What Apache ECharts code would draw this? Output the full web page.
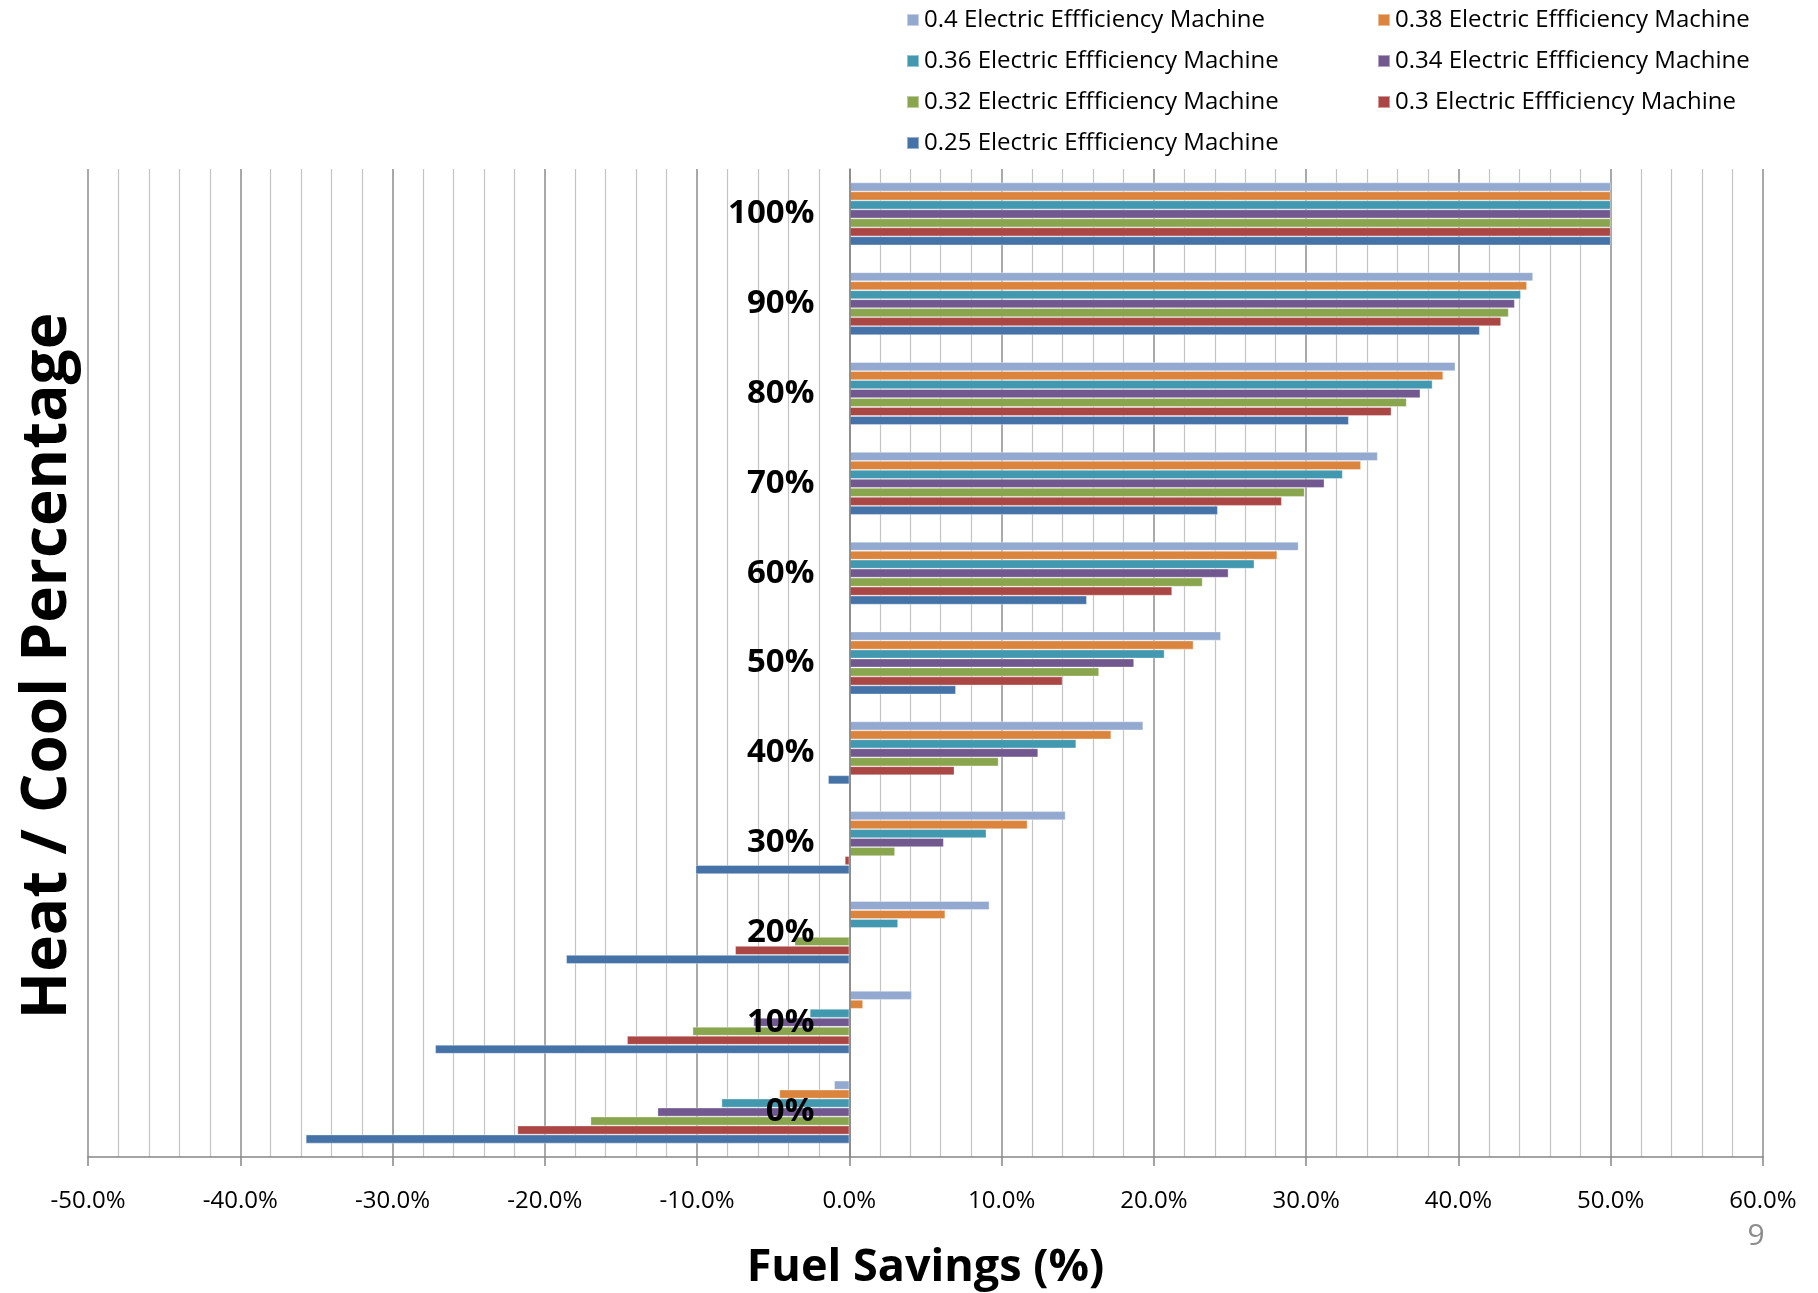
<!DOCTYPE html>
<html>
<head>
<meta charset="utf-8">
<script src="https://cdn.jsdelivr.net/npm/echarts@6/dist/echarts.min.js"></script>
<style>
  html, body { margin: 0; padding: 0; background: #ffffff; }
  #chart { width: 1818px; height: 1293px; }
</style>
</head>
<body>
<div id="chart"></div>
<script>
// Categories (bottom to top)
const categories = ['0%', '10%', '20%', '30%', '40%', '50%', '60%', '70%', '80%', '90%', '100%'];

// Fuel savings (%) per machine electric efficiency
const eff040 = [-1.0, 4.1, 9.2, 14.2, 19.3, 24.4, 29.5, 34.7, 39.8, 44.9, 50.0];
const eff038 = [-4.6, 0.9, 6.3, 11.7, 17.2, 22.6, 28.1, 33.6, 39.0, 44.5, 50.0];
const eff036 = [-8.4, -2.6, 3.2, 9.0, 14.9, 20.7, 26.6, 32.4, 38.3, 44.1, 50.0];
const eff034 = [-12.6, -6.3, 0.0, 6.2, 12.4, 18.7, 24.9, 31.2, 37.5, 43.7, 50.0];
const eff032 = [-17.0, -10.3, -3.6, 3.0, 9.8, 16.4, 23.2, 29.9, 36.6, 43.3, 50.0];
const eff030 = [-21.8, -14.6, -7.5, -0.3, 6.9, 14.0, 21.2, 28.4, 35.6, 42.8, 50.0];
const eff025 = [-35.7, -27.2, -18.6, -10.1, -1.4, 7.0, 15.6, 24.2, 32.8, 41.4, 50.0];

const seriesNames = [
  '0.4 Electric Effficiency Machine',
  '0.38 Electric Effficiency Machine',
  '0.36 Electric Effficiency Machine',
  '0.34 Electric Effficiency Machine',
  '0.32 Electric Effficiency Machine',
  '0.3 Electric Effficiency Machine',
  '0.25 Electric Effficiency Machine'
];
const seriesData = [eff040, eff038, eff036, eff034, eff032, eff030, eff025];
const seriesColors = ['#93A9CF', '#DB843D', '#4198AF', '#71588F', '#89A54E', '#AA4643', '#4572A7'];

const xTickMin = -50, xTickMax = 60, xTickStep = 10;

const FONT = "'Open Sans', 'Noto Sans', sans-serif";

const GRID_LEFT = 88, GRID_RIGHT = 55;
const plotWidth = 1818 - GRID_LEFT - GRID_RIGHT;
// Shift the category axis so it sits on the zero line of the value axis
const zeroOffset = plotWidth * (0 - xTickMin) / (xTickMax - xTickMin);

const series = seriesNames.map((name, i) => ({
  name: name,
  type: 'bar',
  data: seriesData[i],
  itemStyle: { color: seriesColors[i], borderColor: 'rgba(255,255,255,0.45)', borderWidth: 0.8 },
  barGap: '0%',
  barCategoryGap: '30%',
  z: 2
}));

const legendCommon = {
  orient: 'vertical',
  itemWidth: 12,
  itemHeight: 12,
  itemGap: 17,
  padding: 0,
  icon: 'rect',
  textStyle: { fontFamily: FONT, fontSize: 24, lineHeight: 24, color: '#000' }
};

const chart = echarts.init(document.getElementById('chart'), null, { renderer: 'canvas' });
chart.setOption({
  animation: false,
  backgroundColor: '#ffffff',
  grid: { left: GRID_LEFT, right: GRID_RIGHT, top: 169, bottom: 136, containLabel: false, outerBoundsMode: 'none' },
  legend: [
    Object.assign({}, legendCommon, { left: 906, top: 8, data: [seriesNames[0], seriesNames[2], seriesNames[4], seriesNames[6]] }),
    Object.assign({}, legendCommon, { left: 1377, top: 8, data: [seriesNames[1], seriesNames[3], seriesNames[5]] })
  ],
  xAxis: {
    type: 'value',
    min: xTickMin,
    max: xTickMax,
    interval: xTickStep,
    name: 'Fuel Savings (%)',
    nameLocation: 'middle',
    nameGap: 89,
    nameTextStyle: { fontFamily: FONT, fontSize: 45, fontWeight: 'bold', color: '#000' },
    axisLine: { show: true, onZero: false, lineStyle: { color: '#868686', width: 1.5 } },
    axisTick: { show: true, length: 9, lineStyle: { color: '#868686', width: 1.5 } },
    axisLabel: {
      margin: 32,
      fontFamily: FONT, fontSize: 24, color: '#000',
      formatter: v => v.toFixed(1) + '%'
    },
    splitLine: { show: true, lineStyle: { color: '#8c8c8c', width: 1.5 } },
    minorTick: { show: false, splitNumber: 5 },
    minorSplitLine: { show: true, lineStyle: { color: '#c4c4c4', width: 1.2 } }
  },
  yAxis: {
    type: 'category',
    data: categories,
    position: 'left',
    offset: -zeroOffset,
    z: 10,
    axisLine: { show: true, onZero: false, lineStyle: { color: '#868686', width: 1.5 } },
    axisTick: { show: false },
    axisLabel: { margin: 35, fontFamily: FONT, fontSize: 33, fontWeight: 'bold', color: '#000' },
    splitLine: { show: false }
  },
  graphic: [
    {
      type: 'text',
      x: 48, y: 666,
      rotation: Math.PI / 2,
      style: {
        text: 'Heat / Cool Percentage',
        font: "bold 62px 'Open Sans', sans-serif",
        fill: '#000',
        textAlign: 'center',
        textVerticalAlign: 'middle'
      }
    },
    {
      type: 'text',
      x: 1756, y: 1236,
      style: {
        text: '9',
        font: "30px 'Open Sans', sans-serif",
        fill: '#8c8c8c',
        textAlign: 'center',
        textVerticalAlign: 'middle'
      }
    }
  ],
  series: series
});
</script>
</body>
</html>
